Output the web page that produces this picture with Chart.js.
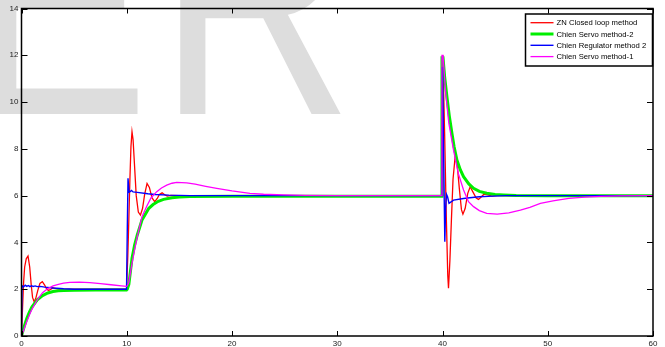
<!DOCTYPE html>
<html>
<head>
<meta charset="utf-8">
<script src="https://cdn.jsdelivr.net/npm/chart.js@4.4.1/dist/chart.umd.min.js"></script>
<style>
html,body{margin:0;padding:0;background:#fff;}
canvas{display:block;}
</style>
</head>
<body>
<canvas id="c" width="665" height="347"></canvas>
<script>
// ---- data ----
const seriesNames = ["ZN Closed loop method", "Chien Servo method-2", "Chien Regulator method 2", "Chien Servo method-1"];
const xTickLabels = [0, 10, 20, 30, 40, 50, 60];
const yTickLabels = [0, 2, 4, 6, 8, 10, 12, 14];

const redT = [0,0.1,0.2,0.3,0.45,0.62,0.78,0.92,1.05,1.2,1.35,1.55,1.75,1.98,2.2,2.4,2.58,2.8,3.0,3.3,3.6,4.0,9.98,
  10.0,10.1,10.2,10.3,10.4,10.5,10.6,10.75,10.9,11.1,11.3,11.5,11.7,11.93,12.15,12.4,12.66,12.9,13.1,13.36,13.6,13.85,14.2,15,39.98,
  40.03,40.2,40.35,40.5,40.57,40.7,40.85,41.0,41.2,41.4,41.6,41.8,41.94,42.15,42.4,42.63,42.9,43.2,43.42,43.7,43.96,44.3,44.7,45.2,60];
const redV = [0,1.2,2.3,2.95,3.3,3.42,2.95,2.2,1.65,1.47,1.6,1.95,2.25,2.32,2.18,2.0,1.95,2.0,2.06,2.03,2.0,2.0,2.0,
  2.0,3.4,5.0,6.7,8.1,8.73,8.4,7.2,6.0,5.3,5.17,5.45,6.05,6.52,6.35,5.9,5.74,5.88,6.05,6.12,6.04,5.98,6.01,6.0,6.0,
  12.0,8.7,5.3,2.6,2.04,3.2,5.0,6.7,7.66,7.3,6.3,5.4,5.21,5.45,6.1,6.38,6.15,5.9,5.84,5.95,6.07,6.03,5.98,6.0,6.0];

const greenT = [0,0.25,0.5,0.75,1,1.5,2,2.5,3,3.5,4,5,7,9.98,
  10.05,10.2,10.5,10.75,11,11.45,12.1,12.5,13,13.5,14.3,15,16,20,39.9,
  39.95,40.05,40.2,40.42,40.65,40.9,41.1,41.37,41.7,42,42.5,42.95,43.5,44.2,45,45.8,47,50,60];
const greenV = [0,0.4,0.75,1.02,1.25,1.55,1.73,1.84,1.9,1.93,1.95,1.96,1.97,1.97,
  2.0,2.2,3.32,3.9,4.32,4.96,5.46,5.62,5.76,5.84,5.91,5.94,5.96,5.97,5.97,
  11.9,11.9,11.1,10.23,9.4,8.66,8.1,7.52,7.1,6.81,6.5,6.31,6.18,6.1,6.05,6.03,6.01,6.0,6.0];

const blueT = [0,0.05,0.2,0.35,0.5,0.65,0.8,0.95,1.1,1.3,1.5,1.8,2.2,3,4,5,9.98,
  10.05,10.12,10.22,10.35,10.45,10.6,11,12,12.7,14,16,39.95,
  40.0,40.1,40.22,40.3,40.38,40.48,40.62,41.05,42,42.6,43.5,44.8,46,60];
const blueV = [0,2.15,2.1,2.17,2.12,2.16,2.11,2.15,2.12,2.14,2.11,2.12,2.09,2.05,2.02,2.0,2.0,
  4.5,6.74,6.15,6.18,6.22,6.16,6.14,6.08,6.05,6.02,6.0,6.0,
  11.5,8.0,4.03,5.5,6.05,5.95,5.67,5.81,5.88,5.91,5.95,5.98,6.0,6.0];

const magT = [0,0.25,0.5,0.75,1,1.5,2,2.5,3,3.5,4,4.6,5.5,6.5,7.5,8.5,9.5,9.98,
  10.05,10.2,10.5,10.75,11,11.45,11.9,12.3,12.85,13.3,13.8,14.3,14.75,15.7,16.5,17.5,18.55,20,21.7,23,24.9,27,30,39.9,
  39.95,40.05,40.3,40.6,41.05,41.5,42,42.47,42.95,43.5,44.2,45.2,46.3,47.4,48.3,49.3,50.5,52,53.5,55,57,60];
const magV = [0,0.3,0.62,0.9,1.15,1.55,1.85,2.03,2.14,2.21,2.26,2.29,2.3,2.28,2.24,2.19,2.14,2.12,
  2.15,2.3,3.1,3.7,4.25,5.1,5.55,5.9,6.17,6.33,6.45,6.53,6.57,6.55,6.49,6.4,6.31,6.2,6.1,6.06,6.03,6.01,6.0,6.0,
  12.0,12.0,10.4,9.1,7.95,6.95,6.24,5.74,5.53,5.36,5.24,5.21,5.26,5.38,5.5,5.67,5.78,5.88,5.94,5.97,5.99,6.0];

const colors = ["#ff0000", "#00ee00", "#0000ff", "#ff00ff"];
const widths = [1.3, 3, 1.4, 1.3];

function pts(t, v){ return t.map((x,i)=>({x:x, y:v[i]})); }
const allT = [redT, greenT, blueT, magT];
const allV = [redV, greenV, blueV, magV];

// watermark behind everything
const watermark = {
  id:'watermark',
  beforeDraw(chart){
    const ctx = chart.ctx;
    ctx.save();
    ctx.fillStyle = '#fff';
    ctx.fillRect(0,0,chart.width,chart.height);
    ctx.fillStyle = '#dddddd';
    ctx.font = "270px 'Liberation Sans', Arial, sans-serif";
    ctx.textBaseline = 'alphabetic';
    const wE = ctx.measureText('E').width;
    ctx.translate(0, 114);
    ctx.scale(1, 1.24);
    ctx.fillText('E', -31, 0);
    ctx.fillText('R', -28 + wE + 6, 0);
    ctx.restore();
  }
};

// box and inward ticks
const boxTicks = {
  id:'boxTicks',
  afterDatasetsDraw(chart){
    const ctx = chart.ctx, a = chart.chartArea;
    const xs = chart.scales.x, ys = chart.scales.y;
    ctx.save();
    ctx.strokeStyle = '#000';
    ctx.lineWidth = 1;
    ctx.beginPath();
    xs.ticks.forEach(t=>{
      const px = Math.round(xs.getPixelForValue(t.value))+0.5;
      ctx.moveTo(px, a.bottom); ctx.lineTo(px, a.bottom-5);
      ctx.moveTo(px, a.top); ctx.lineTo(px, a.top+5);
    });
    ys.ticks.forEach(t=>{
      const py = Math.round(ys.getPixelForValue(t.value))+0.5;
      ctx.moveTo(a.left, py); ctx.lineTo(a.left+6, py);
      ctx.moveTo(a.right, py); ctx.lineTo(a.right-6, py);
    });
    ctx.stroke();
    ctx.lineWidth = 1.5;
    ctx.strokeRect(a.left, a.top, a.right-a.left, a.bottom-a.top);
    ctx.restore();
  }
};

// legend box in top-right corner
const legendBox = {
  id:'legendBox',
  afterDraw(chart){
    const ctx = chart.ctx, a = chart.chartArea;
    const w = 127, h = 52;
    const x0 = a.right - w - 0.5, y0 = 14;
    ctx.save();
    ctx.fillStyle = '#fff';
    ctx.fillRect(x0, y0, w, h);
    ctx.strokeStyle = '#000';
    ctx.lineWidth = 1.5;
    ctx.strokeRect(x0, y0, w, h);
    ctx.font = "7.7px 'Liberation Sans', Arial, sans-serif";
    ctx.textBaseline = 'middle';
    ctx.fillStyle = '#000';
    chart.data.datasets.forEach((ds,i)=>{
      const y = y0 + 8.7 + i*11.3;
      ctx.strokeStyle = ds.borderColor;
      ctx.lineWidth = ds.borderWidth;
      ctx.beginPath();
      ctx.moveTo(x0+5, y); ctx.lineTo(x0+28, y);
      ctx.stroke();
      ctx.fillText(ds.label, x0+31, y+0.5);
    });
    ctx.restore();
  }
};

new Chart(document.getElementById('c'), {
  type:'line',
  data:{
    datasets: seriesNames.map((n,i)=>({
      label:n,
      data:pts(allT[i], allV[i]),
      borderColor:colors[i],
      backgroundColor:colors[i],
      borderWidth:widths[i],
      pointRadius:0,
      tension:0,
      fill:false,
      order: 4-i
    }))
  },
  options:{
    responsive:false,
    animation:false,
    devicePixelRatio:1,
    layout:{padding:{top:8.5, right:12, left:0, bottom:0}},
    plugins:{legend:{display:false}, tooltip:{enabled:false}},
    scales:{
      x:{
        type:'linear', min:0, max:60,
        grid:{display:false, drawTicks:false},
        border:{display:false},
        afterBuildTicks(s){ s.ticks = xTickLabels.map(v=>({value:v})); },
        ticks:{font:{family:"'Liberation Sans', Arial, sans-serif", size:8}, color:'#222', padding:3, maxRotation:0, autoSkip:false},
        afterFit(s){ s.height = 11; }
      },
      y:{
        type:'linear', min:0, max:14,
        grid:{display:false, drawTicks:false},
        border:{display:false},
        afterBuildTicks(s){ s.ticks = yTickLabels.map(v=>({value:v})); },
        ticks:{font:{family:"'Liberation Sans', Arial, sans-serif", size:8}, color:'#222', padding:3, autoSkip:false},
        afterFit(s){ s.width = 21.5; }
      }
    }
  },
  plugins:[watermark, boxTicks, legendBox]
});
</script>
</body>
</html>
